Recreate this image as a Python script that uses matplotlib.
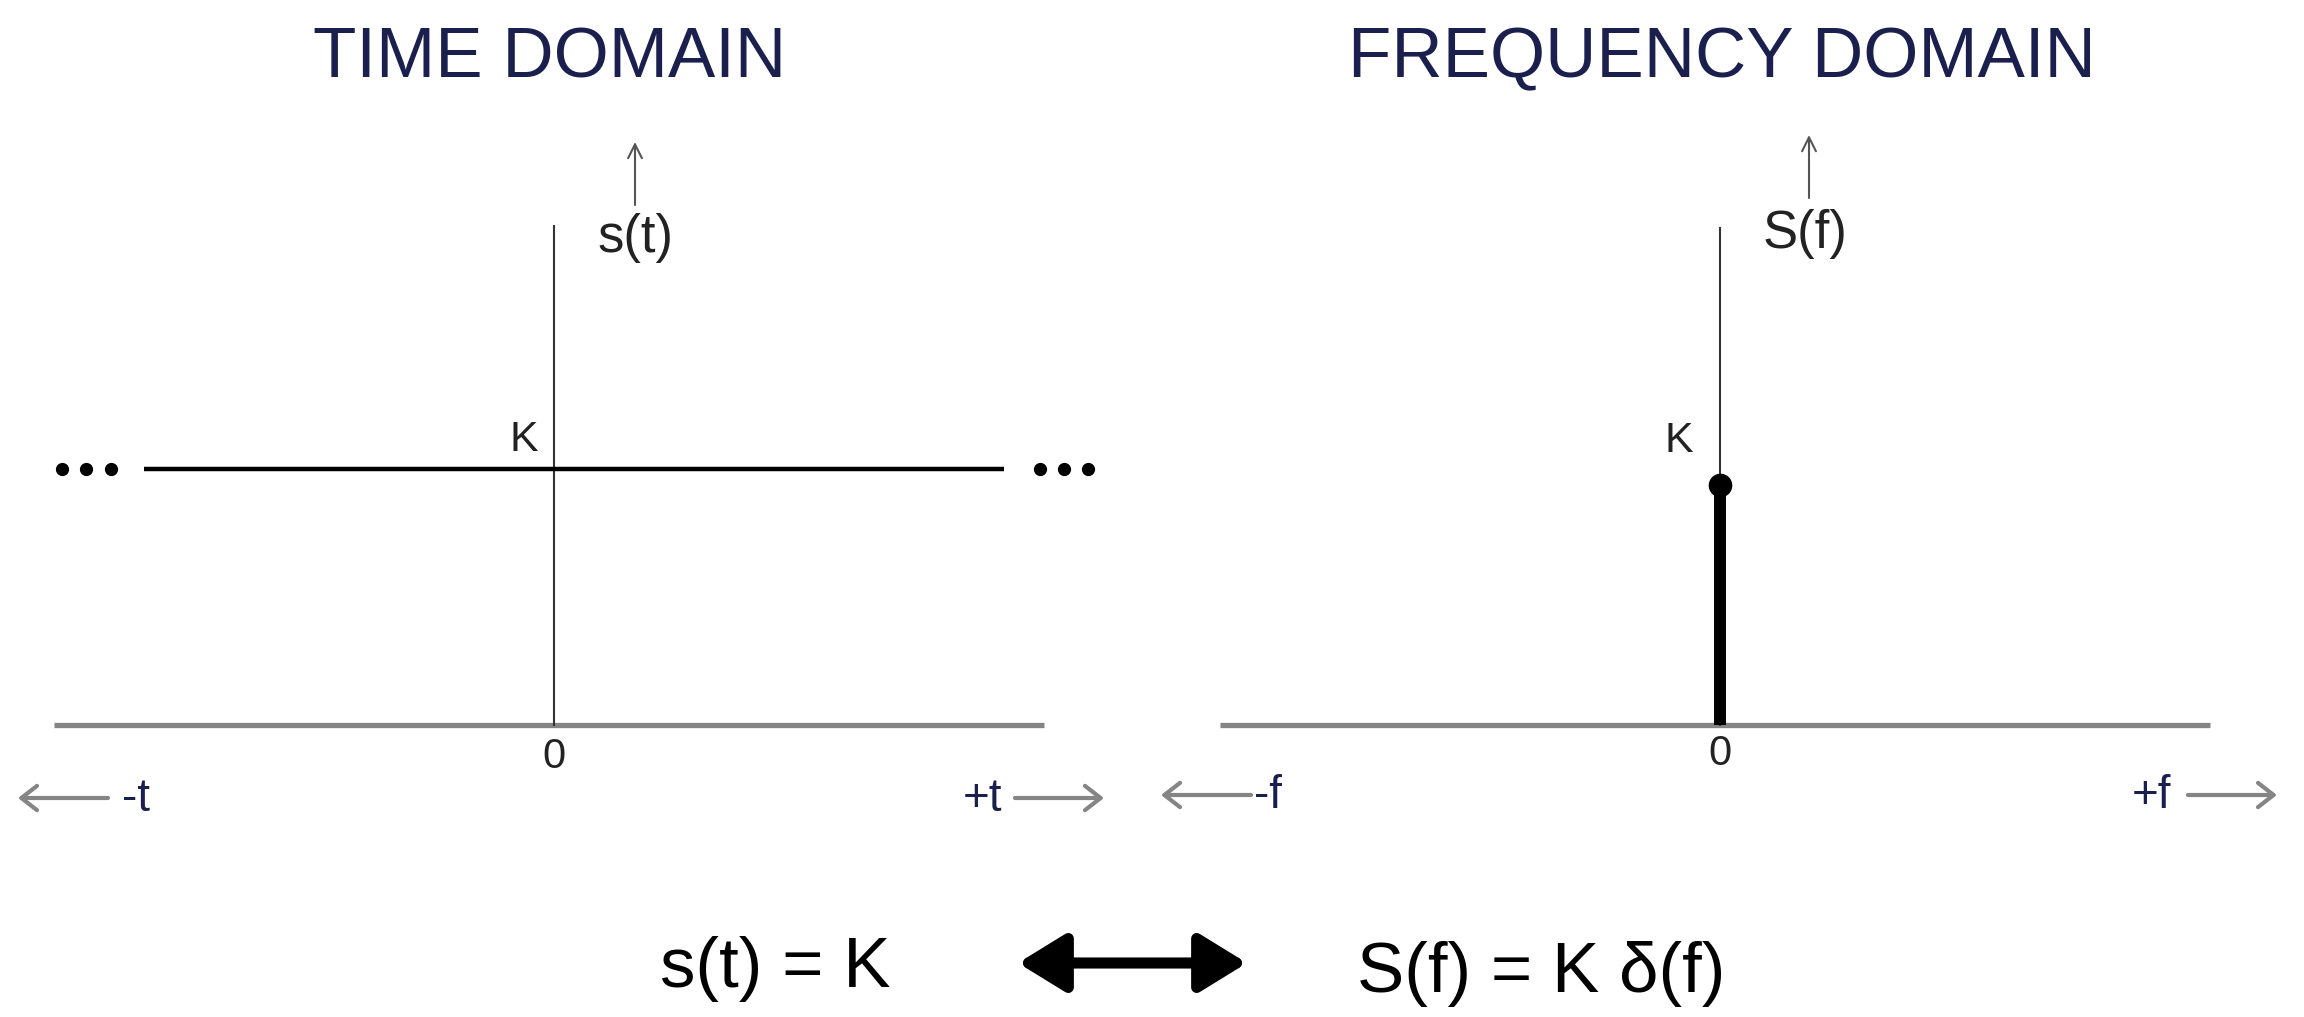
import matplotlib.pyplot as plt
from matplotlib.patches import FancyArrowPatch

plt.rcParams['font.family'] = ['Liberation Sans', 'DejaVu Sans']

K = 1.0

# time domain: s(t) = K for every t
t_axis = [-1.0, 0.98]
t_level = [-0.82, 0.90]
s_level = [K, K]
t_dots_left = [-0.984, -0.936, -0.886]
t_dots_right = [0.972, 1.020, 1.068]
s_axis_top = 1.95

# frequency domain: one impulse of height K at f = 0
f_axis = [-1.0, 0.98]
f_impulse = [0.0, 0.0]
S_impulse = [0.0, K]
S_axis_top = 2.07

W, H = 2304, 1017
NAVY = '#1a1f4d'
GREY = '#858585'


def px(x, y):
    return x / W, 1 - y / H


fig = plt.figure(figsize=(W / 100, H / 100), dpi=100)
fig.patch.set_facecolor('white')

ax_t = fig.add_axes([0, 0, 0.5, 1])
ax_f = fig.add_axes([0.5, 0, 0.5, 1])
ax_t.set_xlim(-554 / 500, 598 / 500)
ax_t.set_ylim(-292 / 256, 725 / 256)
ax_f.set_xlim(-568 / 500, 584 / 500)
ax_f.set_ylim(-292 / 240, 725 / 240)
for ax in (ax_t, ax_f):
    ax.axis('off')

# time domain plot
ax_t.plot(t_axis, [0, 0], color=GREY, lw=3.8, solid_capstyle='butt')
ax_t.plot([0, 0], [0, s_axis_top], color='#333333', lw=1.5)
ax_t.plot(t_level, s_level, color='black', lw=3.2, solid_capstyle='butt')
ax_t.plot(t_dots_left, [K] * 3, 'o', color='black', ms=8.5)
ax_t.plot(t_dots_right, [K] * 3, 'o', color='black', ms=8.5)
ax_t.annotate('K', (0, K), xytext=(-21.6, 21), textcoords='offset points',
              ha='center', va='center', fontsize=31, color='#222222')
ax_t.annotate('0', (0, 0), xytext=(0, -23), textcoords='offset points',
              ha='center', va='center', fontsize=30, color='#222222')
ax_t.annotate('s(t)', (0, s_axis_top), xytext=(31, -8.6), textcoords='offset points',
              ha='left', va='center', fontsize=38, color='#222222')

# frequency domain plot
ax_f.plot(f_axis, [0, 0], color=GREY, lw=3.8, solid_capstyle='butt')
ax_f.plot([0, 0], [0, S_axis_top], color='#333333', lw=1.5)
ax_f.plot(f_impulse, S_impulse, color='black', lw=8.6, solid_capstyle='butt')
ax_f.plot(f_impulse[-1:], S_impulse[-1:], 'o', color='black', ms=16)
ax_f.annotate('K', (0, K), xytext=(-30, 31.7), textcoords='offset points',
              ha='center', va='center', fontsize=31, color='#222222')
ax_f.annotate('0', (0, 0), xytext=(0, -21), textcoords='offset points',
              ha='center', va='center', fontsize=30, color='#222222')
ax_f.annotate('S(f)', (0, S_axis_top), xytext=(31, -4.3), textcoords='offset points',
              ha='left', va='center', fontsize=38, color='#222222')

# titles
fig.text(*px(550, 77), 'TIME DOMAIN', ha='center', va='baseline',
         fontsize=51, color=NAVY)
fig.text(*px(1722, 77), 'FREQUENCY DOMAIN', ha='center', va='baseline',
         fontsize=51, color=NAVY)


def arrow(p0, p1, style, color, lw, scale):
    a = FancyArrowPatch(px(*p0), px(*p1), transform=fig.transFigure,
                        arrowstyle=style, color=color, lw=lw,
                        mutation_scale=scale, shrinkA=0, shrinkB=0)
    fig.add_artist(a)


# small arrows above the vertical axes
arrow((635, 205), (635, 142), '->,head_length=0.5,head_width=0.25', '#555555', 1.5, 20)
arrow((1809, 198), (1809, 135), '->,head_length=0.5,head_width=0.25', '#555555', 1.5, 20)

# direction arrows under the horizontal axes
hstyle = '->,head_length=0.45,head_width=0.35'
arrow((108, 798), (18, 798), hstyle, GREY, 3, 25)
arrow((1015, 798), (1104, 798), hstyle, GREY, 3, 25)
arrow((1251, 795), (1161, 795), hstyle, GREY, 3, 25)
arrow((2188, 795), (2277, 795), hstyle, GREY, 3, 25)
fig.text(*px(122, 811), '-t', ha='left', va='baseline', fontsize=33, color=NAVY)
fig.text(*px(1002, 811), '+t', ha='right', va='baseline', fontsize=33, color=NAVY)
fig.text(*px(1254, 808), '-f', ha='left', va='baseline', fontsize=33, color=NAVY)
fig.text(*px(2171, 808), '+f', ha='right', va='baseline', fontsize=33, color=NAVY)

# transform pair
fig.text(*px(660, 987), 's(t) = K', ha='left', va='baseline', fontsize=51, color='black')
fig.text(*px(1357, 992), 'S(f) = K δ(f)', ha='left', va='baseline', fontsize=51, color='black')
arrow((1018, 963), (1247, 963), '<|-|>,head_length=1.3,head_width=0.8', 'black', 8, 22)

fig.savefig('out.png', dpi=100, facecolor='white')
